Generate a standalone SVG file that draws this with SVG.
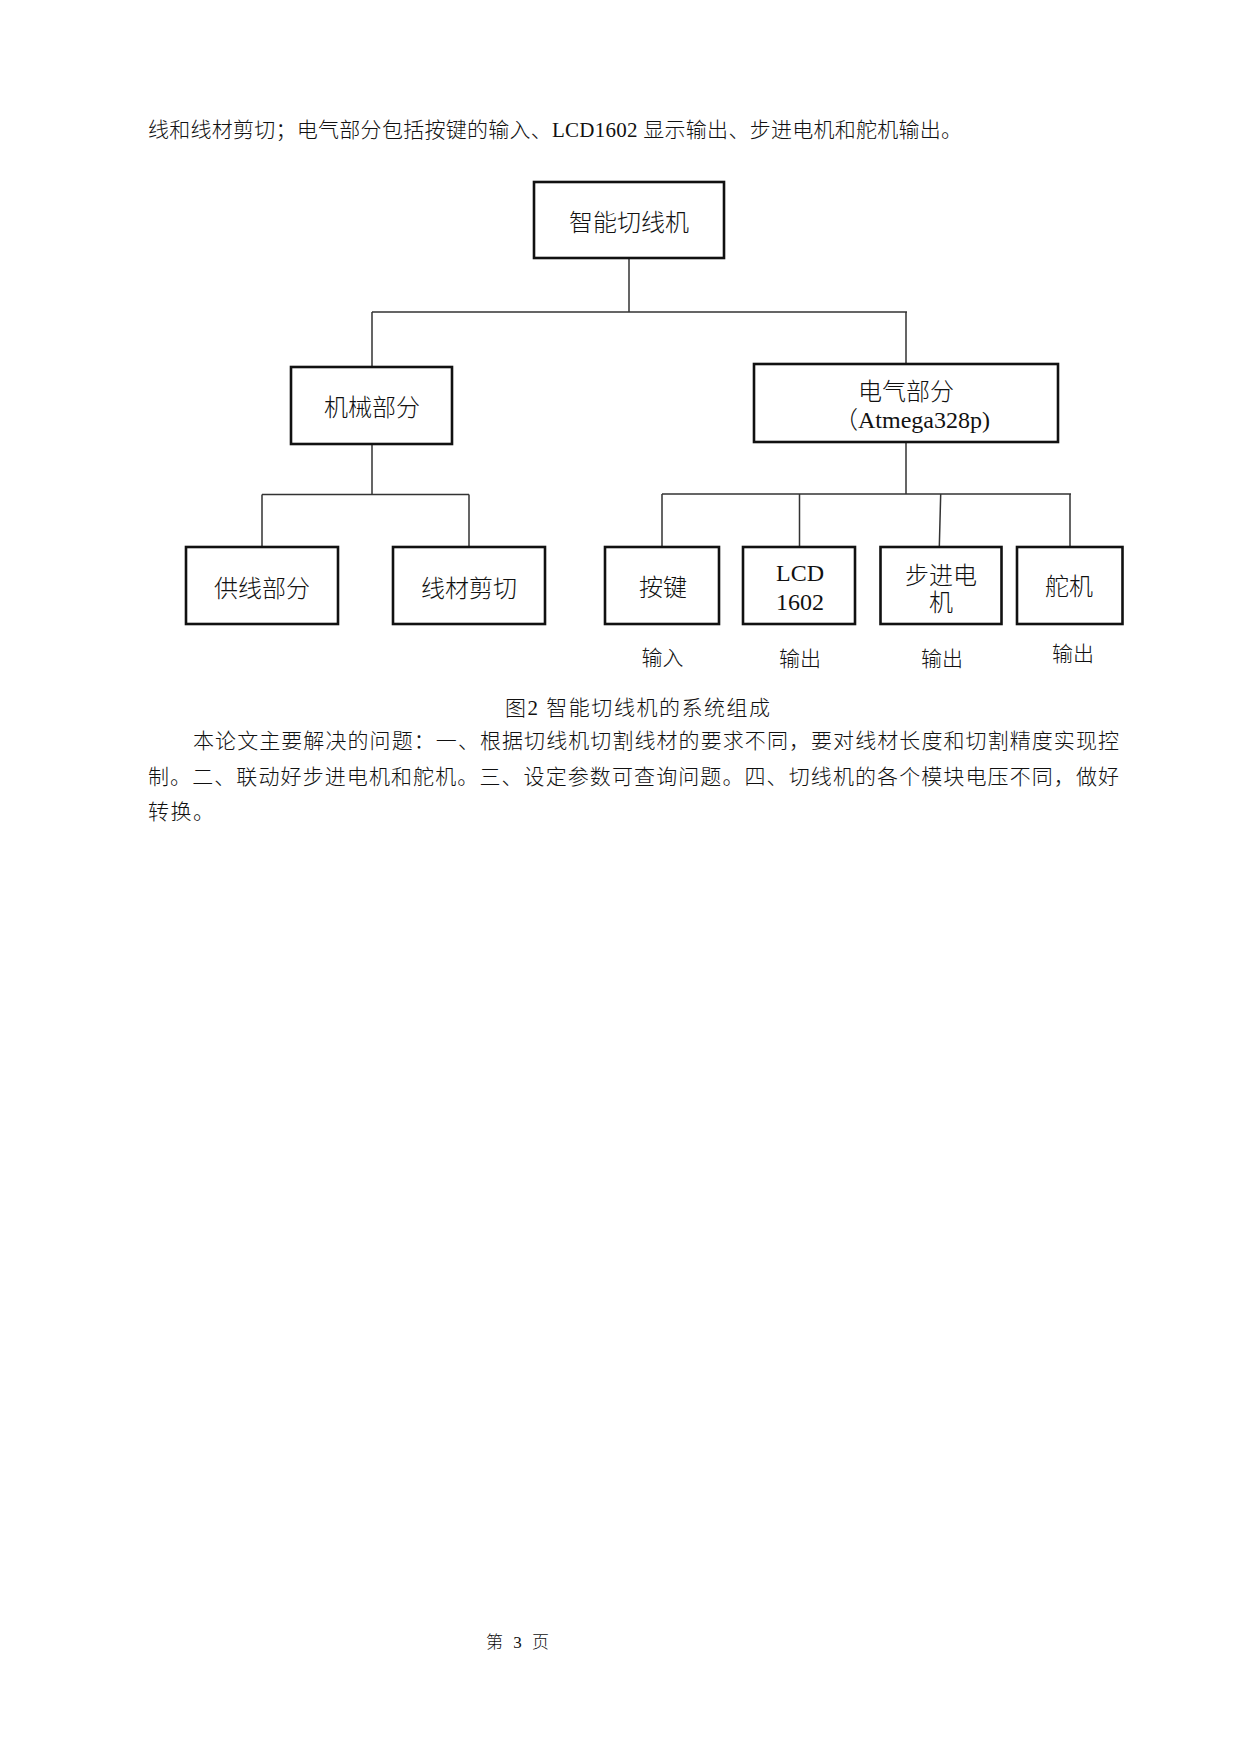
<svg xmlns="http://www.w3.org/2000/svg" width="1240" height="1754" viewBox="0 0 1240 1754">
<style>
  .bg { fill: #ffffff; }
  .box { fill: #ffffff; stroke: #111111; stroke-width: 2.6; }
  .conn { fill: none; stroke: #333333; stroke-width: 1.5; }
  .t { font-family: "Liberation Serif", "Noto Sans CJK SC", serif; fill: #111111; font-weight: 300; }
  .node { font-size: 24px; text-anchor: middle; }
  .lbl { font-size: 21px; text-anchor: middle; }
  .body { font-size: 21px; }
</style>
<rect class="bg" x="0" y="0" width="1240" height="1754"/>

<!-- body text above -->
<text class="t body" x="148" y="137" textLength="814" lengthAdjust="spacing">线和线材剪切；电气部分包括按键的输入、LCD1602 显示输出、步进电机和舵机输出。</text>

<!-- connectors -->
<g id="connectors">
  <path class="conn" d="M629 258 V312 M372 312 H907 M372 312 V367 M906 312 V364"/>
  <path class="conn" d="M372 444 V494.5 M262 494.5 H469 M262 494.5 V547 M469 494.5 V547"/>
  <path class="conn" d="M906 442 V494 M662 494 H1071 M662 494 V547 M799.5 494 V547 M940.7 494 L939.3 547 M1070 494 V547"/>
</g>

<g id="n-root">
  <rect class="box" x="534" y="182" width="190" height="76"/>
  <text class="t node" x="629" y="231" font-size="25">智能切线机</text>
</g>
<g id="n-mech">
  <rect class="box" x="291" y="367" width="161" height="77"/>
  <text class="t node" x="372" y="416">机械部分</text>
</g>
<g id="n-elec">
  <rect class="box" x="754" y="364" width="304" height="78"/>
  <text class="t node" x="906" y="400">电气部分</text>
  <text class="t node" x="912" y="428" font-size="25">（Atmega328p)</text>
</g>
<g id="n-feed">
  <rect class="box" x="186" y="547" width="152" height="77"/>
  <text class="t node" x="262" y="597">供线部分</text>
</g>
<g id="n-cut">
  <rect class="box" x="393" y="547" width="152" height="77"/>
  <text class="t node" x="469" y="597">线材剪切</text>
</g>
<g id="n-key">
  <rect class="box" x="605" y="547" width="114" height="77"/>
  <text class="t node" x="663" y="596">按键</text>
</g>
<g id="n-lcd">
  <rect class="box" x="743" y="547" width="112" height="77"/>
  <text class="t node" x="800" y="581" font-size="26">LCD</text>
  <text class="t node" x="800" y="610" font-size="26">1602</text>
</g>
<g id="n-step">
  <rect class="box" x="880.5" y="547" width="121" height="77"/>
  <text class="t node" x="941" y="584">步进电</text>
  <text class="t node" x="941" y="611">机</text>
</g>
<g id="n-servo">
  <rect class="box" x="1017" y="547" width="105.5" height="77"/>
  <text class="t node" x="1069" y="595">舵机</text>
</g>

<!-- labels under nodes -->
<text class="t lbl" x="662.5" y="665">输入</text>
<text class="t lbl" x="800" y="666">输出</text>
<text class="t lbl" x="942" y="666">输出</text>
<text class="t lbl" x="1073" y="661">输出</text>

<!-- caption -->
<text class="t body" x="505" y="715" textLength="265" lengthAdjust="spacing">图2 智能切线机的系统组成</text>

<!-- paragraph -->
<text class="t body" x="193" y="748" textLength="926" lengthAdjust="spacing">本论文主要解决的问题：一、根据切线机切割线材的要求不同，要对线材长度和切割精度实现控</text>
<text class="t body" x="148" y="784" textLength="971" lengthAdjust="spacing">制。二、联动好步进电机和舵机。三、设定参数可查询问题。四、切线机的各个模块电压不同，做好</text>
<text class="t body" x="148" y="819" textLength="66" lengthAdjust="spacing">转换。</text>

<!-- page number -->
<text class="t" x="486" y="1648" font-size="17" textLength="63" lengthAdjust="spacing">第 3 页</text>
</svg>
